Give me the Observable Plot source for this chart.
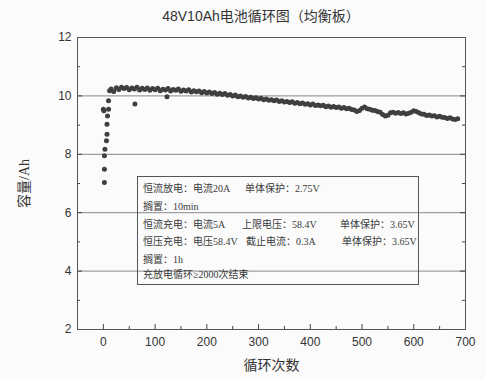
<!DOCTYPE html>
<html>
<head>
<meta charset="utf-8">
<script src="https://cdn.jsdelivr.net/npm/d3@7"></script>
<script src="https://cdn.jsdelivr.net/npm/@observablehq/plot@0.6"></script>
<style>
  body { margin: 0; background: #fbfbfb; }
  #wrap { position: relative; width: 485px; height: 380px; overflow: hidden; }
  .title { height: 28px; line-height: 32px; width: 485px; box-sizing: border-box; padding-left: 37px; text-align: center;
           font-family: "Liberation Sans", "Noto Sans CJK SC", sans-serif; font-size: 14px; color: #333; }
  #legend { position: absolute; left: 137px; top: 176px; width: 282px; height: 109px; border: 1px solid #555; box-sizing: border-box;
            font-family: "Liberation Serif", "Noto Sans CJK SC", serif; font-size: 10px; color: #3a3a3a; }
  #legend span { position: absolute; white-space: nowrap; line-height: 12px; }
  g[aria-label="x-axis label"] text, g[aria-label="y-axis label"] text {
    font-family: "Liberation Serif", "Noto Sans CJK SC", serif; font-size: 14px; fill: #333; }
</style>
</head>
<body>
<div id="wrap">
  <div class="title">48V10Ah电池循环图（均衡板）</div>
  <div id="chart"></div>
  <div id="legend"></div>
</div>
<script>
// Title and legend text
const titleText = "48V10Ah电池循环图（均衡板）";
const xLabel = "循环次数";
const yLabel = "容量/Ah";
const legendLines = [
  ["恒流放电：电流20A", "单体保护：2.75V", ""],
  ["搁置：10min", "", ""],
  ["恒流充电：电流5A", "上限电压：58.4V", "单体保护：3.65V"],
  ["恒压充电：电压58.4V", "截止电流：0.3A", "单体保护：3.65V"],
  ["搁置：1h", "", ""],
  ["充放电循环≥2000次结束", "", ""]
];

// Axis ticks
const xTicks = [0, 100, 200, 300, 400, 500, 600, 700];
const xMinorTicks = [50, 150, 250, 350, 450, 550, 650];
const yTicks = [2, 4, 6, 8, 10, 12];
const yMinorTicks = [3, 5, 7, 9, 11];
const yGrid = [4, 6, 8, 10];

// Series: cycle number and capacity (Ah)
const cycles = [
  0, 1, 2, 2, 2, 3, 6, 7, 7, 8, 10, 10, 61, 123,
  12, 15, 20, 25, 30, 35, 40, 45, 50, 55, 60, 65, 70, 75, 80, 85, 90, 95,
  100, 105, 110, 115, 120, 125, 130, 135, 140, 145, 150, 155, 160, 165, 170, 175, 180, 185, 190, 195,
  200, 205, 210, 215, 220, 225, 230, 235, 240, 245, 250, 255, 260, 265, 270, 275, 280, 285, 290, 295,
  300, 305, 310, 315, 320, 325, 330, 335, 340, 345, 350, 355, 360, 365, 370, 375, 380, 385, 390, 395,
  400, 405, 410, 415, 420, 425, 430, 435, 440, 445, 450, 455, 460, 465, 470, 475, 480, 485, 490, 495,
  500, 505, 510, 515, 520, 525, 530, 535, 540, 545, 550, 555, 560, 565, 570, 575, 580, 585, 590, 595,
  600, 605, 610, 615, 620, 625, 630, 635, 640, 645, 650, 655, 660, 665, 670, 675, 680, 685
];
const capacity = [
  9.54, 9.49, 7.03, 7.49, 7.95, 8.17, 8.46, 8.69, 9.03, 9.31, 9.54, 9.83, 9.72, 9.97,
  10.18, 10.24, 10.15, 10.28, 10.22, 10.30, 10.25, 10.29, 10.21, 10.27, 10.24, 10.30, 10.20, 10.26, 10.22, 10.27, 10.19, 10.25,
  10.21, 10.26, 10.18, 10.23, 10.20, 10.25, 10.17, 10.22, 10.19, 10.24, 10.16, 10.20, 10.17, 10.21, 10.13, 10.18, 10.14, 10.17, 10.11, 10.15,
  10.10, 10.13, 10.08, 10.12, 10.06, 10.09, 10.05, 10.08, 10.02, 10.05, 10.00, 10.03, 9.97, 10.00, 9.95, 9.98, 9.93, 9.95, 9.91, 9.94,
  9.89, 9.92, 9.87, 9.89, 9.85, 9.87, 9.83, 9.86, 9.81, 9.83, 9.79, 9.81, 9.77, 9.80, 9.75, 9.77, 9.73, 9.76, 9.71, 9.73,
  9.69, 9.72, 9.67, 9.69, 9.66, 9.68, 9.63, 9.65, 9.61, 9.64, 9.60, 9.62, 9.58, 9.60, 9.56, 9.58, 9.53, 9.52, 9.47, 9.50,
  9.58, 9.62, 9.56, 9.54, 9.51, 9.50, 9.47, 9.44, 9.36, 9.31, 9.34, 9.42, 9.44, 9.41, 9.43, 9.40, 9.42, 9.38, 9.41, 9.44,
  9.49, 9.47, 9.42, 9.38, 9.37, 9.33, 9.35, 9.31, 9.32, 9.28, 9.30, 9.27, 9.26, 9.23, 9.25, 9.21, 9.19, 9.22
];
const data = cycles.map((c, i) => ({cycle: c, cap: capacity[i]}));

const W = 485, H = 352, mT = 9, mB = 51, mL = 77, mR = 20;
const frameW = W - mL - mR, frameH = H - mT - mB;
const major = 5, minor = 3;
const tickFont = {fontSize: 12, fill: "#333", fontFamily: "Liberation Sans, Arial, sans-serif"};
const tickStyle = {stroke: "#444", strokeWidth: 1};

const chart = Plot.plot({
  width: W,
  height: H,
  marginTop: mT,
  marginBottom: mB,
  marginLeft: mL,
  marginRight: mR,
  style: {background: "transparent", fontFamily: "Liberation Sans, Arial, sans-serif"},
  x: {domain: [-50, 700]},
  y: {domain: [2, 12]},
  marks: [
    Plot.gridY(yGrid, {stroke: "#888", strokeOpacity: 1, strokeWidth: 1}),
    Plot.dot(data, {x: "cycle", y: "cap", r: 2.5, fill: "#3f3f3f", stroke: "none"}),
    // inward ticks
    Plot.tickX(xTicks, {x: d => d, insetTop: frameH - major, ...tickStyle}),
    Plot.tickX(xMinorTicks, {x: d => d, insetTop: frameH - minor, ...tickStyle}),
    Plot.tickY(yTicks, {y: d => d, insetRight: frameW - major, ...tickStyle}),
    Plot.tickY(yMinorTicks, {y: d => d, insetRight: frameW - minor, ...tickStyle}),
    Plot.tickY(yTicks, {y: d => d, insetLeft: frameW - major, ...tickStyle}),
    Plot.tickY(yMinorTicks, {y: d => d, insetLeft: frameW - minor, ...tickStyle}),
    Plot.frame({stroke: "#555", strokeWidth: 1}),
    // tick labels and axis titles
    Plot.axisX({ticks: xTicks, anchor: "bottom", tickSize: 0, tickPadding: 8, ...tickFont,
      label: xLabel, labelAnchor: "center", labelOffset: 40, labelArrow: "none"}),
    Plot.axisY({ticks: yTicks, anchor: "left", tickSize: 0, tickPadding: 6, ...tickFont,
      label: yLabel, labelAnchor: "center", labelOffset: 58, labelArrow: "none"})
  ]
});
document.getElementById("chart").appendChild(chart);

// Legend box text (column offsets inside the box)
const legend = document.getElementById("legend");
const rowTop = [6, 24, 42, 59, 77, 92];
const colLeft = [
  [5, 107],
  [5],
  [5, 104, 202],
  [5, 108, 204],
  [5],
  [5]
];
legendLines.forEach((line, r) => {
  line.forEach((t, c) => {
    if (!t) return;
    const s = document.createElement("span");
    s.textContent = t;
    s.style.left = colLeft[r][c] + "px";
    s.style.top = rowTop[r] + "px";
    legend.appendChild(s);
  });
});
</script>
</body>
</html>
